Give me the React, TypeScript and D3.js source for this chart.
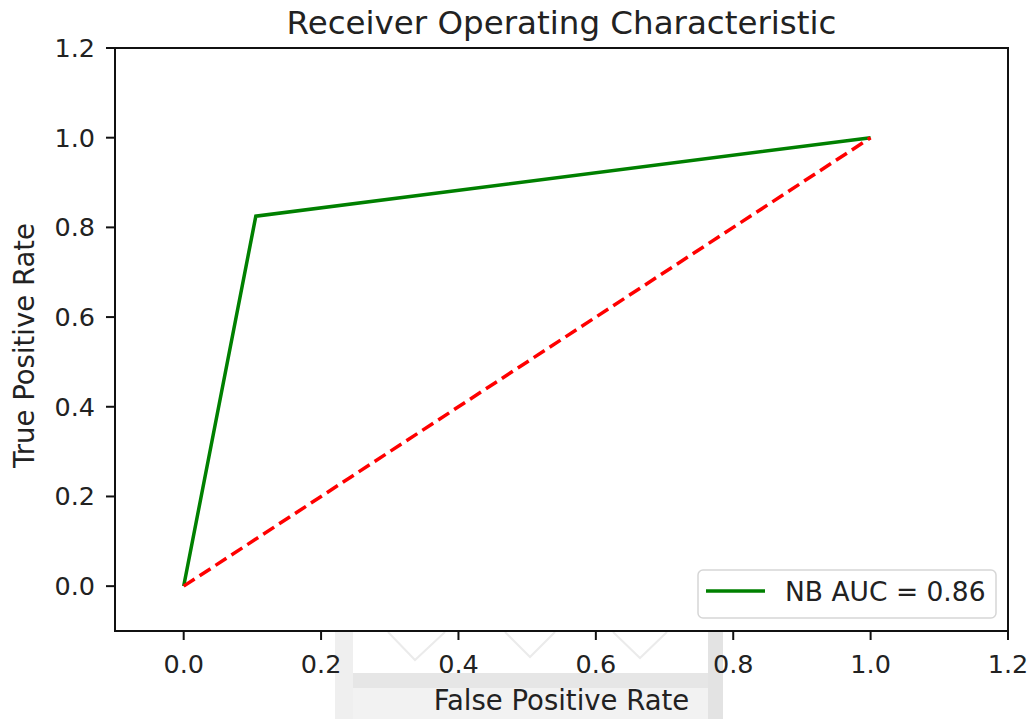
import React from "react";
import * as d3 from "d3";

// ROC curve
const fpr = [0, 0.105, 1];
const tpr = [0, 0.825, 1];
const chanceX = [0, 1];
const chanceY = [0, 1];
const xTicks = [0, 0.2, 0.4, 0.6, 0.8, 1.0, 1.2];
const yTicks = [0, 0.2, 0.4, 0.6, 0.8, 1.0, 1.2];
const title = "Receiver Operating Characteristic";
const xLabel = "False Positive Rate";
const yLabel = "True Positive Rate";
const legendLabel = "NB AUC = 0.86";

const W = 1030;
const H = 719;
const margin = { left: 115, right: 22, top: 48, bottom: 88 };
const font = "'DejaVu Sans', sans-serif";
const ink = "#222";

export default function App() {
  const x = d3
    .scaleLinear()
    .domain([-0.1, 1.2])
    .range([margin.left, W - margin.right]);
  const y = d3
    .scaleLinear()
    .domain([-0.1, 1.2])
    .range([H - margin.bottom, margin.top]);

  const line = d3
    .line<number>()
    .x((d) => x(d))
    .y((d, i) => y(tpr[i]));
  const chance = d3
    .line<number>()
    .x((d) => x(d))
    .y((d, i) => y(chanceY[i]));

  const [x0, x1] = x.range();
  const [y0, y1] = y.range();
  const fmt = d3.format(".1f");

  return (
    <svg
      width={W}
      height={H}
      style={{ position: "absolute", left: 0, top: 0, background: "#fff" }}
      fontFamily={font}
    >
      {/* faint watermark behind the x label */}
      <g>
        <rect x={335} y={688} width={388} height={H - 688} fill="#f2f2f2" />
        <rect x={335} y={673} width={388} height={15} fill="#e6e6e6" />
        <rect x={335} y={y0 + 1} width={18} height={H - y0} fill="#efefef" />
        <rect x={708} y={y0 + 1} width={15} height={H - y0} fill="#e3e3e3" />
        <path
          d="M388,632 L415,660 L445,632 M505,632 L530,657 L555,632 M613,632 L640,658 L667,632"
          fill="none"
          stroke="#ebebeb"
          strokeWidth={2}
        />
      </g>

      <text
        x={(x0 + x1) / 2}
        y={34}
        textAnchor="middle"
        fontSize={32.5}
        fill={ink}
      >
        {title}
      </text>

      <rect
        x={x0}
        y={y1}
        width={x1 - x0}
        height={y0 - y1}
        fill="none"
        stroke="#111"
        strokeWidth={2}
      />

      {xTicks.map((t) => (
        <g key={"x" + t} transform={`translate(${x(t)},${y0})`}>
          <line y2={9} stroke="#111" strokeWidth={2} />
          <text y={42} textAnchor="middle" fontSize={25.5} fill={ink}>
            {fmt(t)}
          </text>
        </g>
      ))}
      {yTicks.map((t) => (
        <g key={"y" + t} transform={`translate(${x0},${y(t)})`}>
          <line x2={-9} stroke="#111" strokeWidth={2} />
          <text x={-20} dy="0.35em" textAnchor="end" fontSize={25.5} fill={ink}>
            {fmt(t)}
          </text>
        </g>
      ))}

      <text
        x={(x0 + x1) / 2}
        y={710}
        textAnchor="middle"
        fontSize={27.5}
        fill={ink}
      >
        {xLabel}
      </text>
      <text
        transform={`translate(34,${(y0 + y1) / 2 + 6}) rotate(-90)`}
        textAnchor="middle"
        fontSize={27.5}
        fill={ink}
      >
        {yLabel}
      </text>

      <path
        d={line(fpr) || ""}
        fill="none"
        stroke="green"
        strokeWidth={3.5}
        strokeLinejoin="miter"
      />
      <path
        d={chance(chanceX) || ""}
        fill="none"
        stroke="red"
        strokeWidth={3.5}
        strokeDasharray="13,6"
      />

      <g>
        <rect
          x={698}
          y={570}
          width={298}
          height={48}
          rx={5}
          fill="#fff"
          fillOpacity={0.85}
          stroke="#d6d6d6"
          strokeWidth={1.5}
        />
        <line x1={706} x2={765} y1={591} y2={591} stroke="green" strokeWidth={3.5} />
        <text x={785} y={601} fontSize={26.5} fill={ink}>
          {legendLabel}
        </text>
      </g>
    </svg>
  );
}
